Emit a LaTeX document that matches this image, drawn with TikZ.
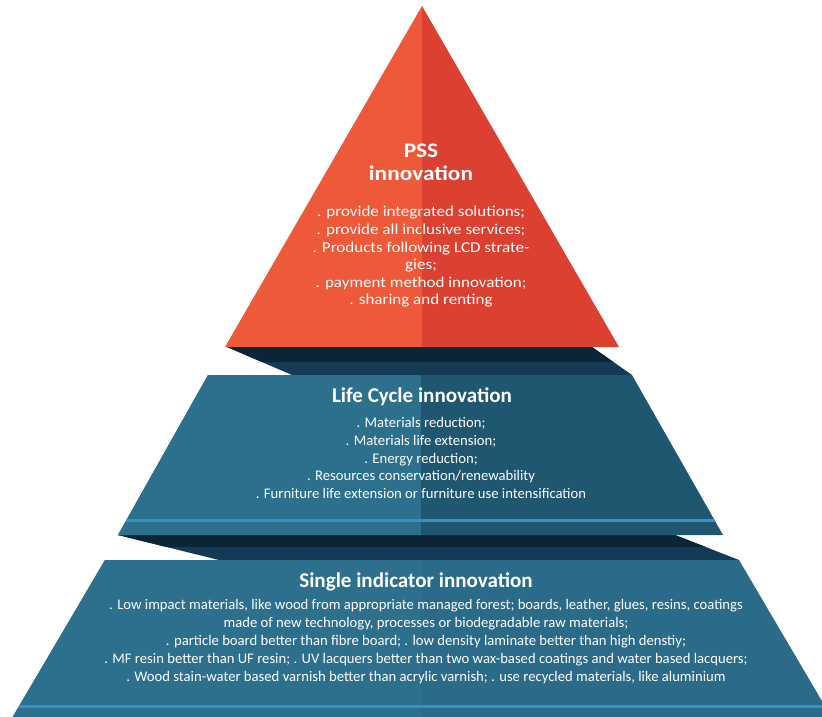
\documentclass[tikz,border=0pt]{standalone}
\usepackage{fontspec}
\setmainfont{Carlito}
\newfontfamily\widefont[FakeStretch=1.13]{Carlito}
\usetikzlibrary{positioning}
\definecolor{redl}{RGB}{238,89,57}
\definecolor{redr}{RGB}{220,64,48}
\definecolor{lcl}{RGB}{44,112,141}
\definecolor{lcr}{RGB}{31,86,112}
\definecolor{sil}{RGB}{44,112,141}
\definecolor{sir}{RGB}{42,107,137}
\definecolor{stripe}{RGB}{58,144,190}
\definecolor{shadea}{RGB}{11,37,55}
\definecolor{shadeb}{RGB}{20,58,85}
\tikzstyle{title} = [font=\bfseries\fontsize{15.8}{17.3}\selectfont, text=white,
  align=center, inner sep=0mm]
\tikzstyle{body} = [font=\fontsize{11}{13.3}\selectfont, text=white,
  align=center, inner sep=0mm]
\tikzstyle{psstitle} = [font=\widefont\bfseries\fontsize{15.5}{17.3}\selectfont]
\tikzstyle{pssbody} = [font=\widefont\fontsize{11.3}{13.2}\selectfont]

\begin{document}
\begin{tikzpicture}[x=0.75pt, y=-0.75pt]
  \useasboundingbox (0,0) rectangle (822,717);
  \clip (0,0) rectangle (822,717);

  % single indicator level
  \begin{scope}
    \clip (105,560) -- (739,560) -- (839,730) -- (5,730) -- cycle;
    \fill[sir] (0,550) rectangle (840,730);
    \fill[sil] (0,550) rectangle (421,730);
    \fill[stripe] (0,705) rectangle (840,708);
  \end{scope}
  \begin{scope}
    \clip (118,535) -- (675,535) -- (739,560) -- (219,560) -- cycle;
    \fill[shadeb] (100,535) rectangle (750,560);
    \fill[shadea] (100,535) rectangle (750,547);
  \end{scope}

  % life cycle level
  \begin{scope}
    \clip (208,375) -- (632,375) -- (723,535) -- (118,535) -- cycle;
    \fill[lcr] (100,370) rectangle (740,540);
    \fill[lcl] (100,370) rectangle (421,540);
    \fill[stripe] (100,519) rectangle (740,522);
  \end{scope}
  \begin{scope}
    \clip (227,347) -- (592,347) -- (632,375) -- (292,375) -- cycle;
    \fill[shadeb] (220,347) rectangle (640,375);
    \fill[shadea] (220,347) rectangle (640,362);
  \end{scope}

  % pss level
  \fill[redr] (422,6) -- (619,347) -- (422,347) -- cycle;
  \fill[redl] (422,6) -- (225,347) -- (422,347) -- cycle;

  \node[title, psstitle] (pss) at (421,162) {PSS\\innovation};
  \node[body, pssbody] (psstxt) at (421,257) {. provide integrated solutions;\\
    . provide all inclusive services;\\
    . Products following LCD strate-\\
    gies;\\
    . payment method innovation;\\
    . sharing and renting};

  \node[title] (lc) at (422,397) {Life Cycle innovation};
  \node[body] (lctxt) at (421,458) {. Materials reduction;\\
    . Materials life extension;\\
    . Energy reduction;\\
    . Resources conservation/renewability\\
    . Furniture life extension or furniture use intensification};

  \node[title] (si) at (416,582) {Single indicator innovation};
  \node[body, font=\fontsize{11}{13.5}\selectfont] (sitxt) at (426,642)
  {. Low impact materials, like wood from appropriate managed forest; boards, leather, glues, resins, coatings\\
    made of new technology, processes or biodegradable raw materials;\\
    . particle board better than fibre board; . low density laminate better than high denstiy;\\
    . MF resin better than UF resin; . UV lacquers better than two wax-based coatings and water based lacquers;\\
    . Wood stain-water based varnish better than acrylic varnish; . use recycled materials, like aluminium};
\end{tikzpicture}
\end{document}
